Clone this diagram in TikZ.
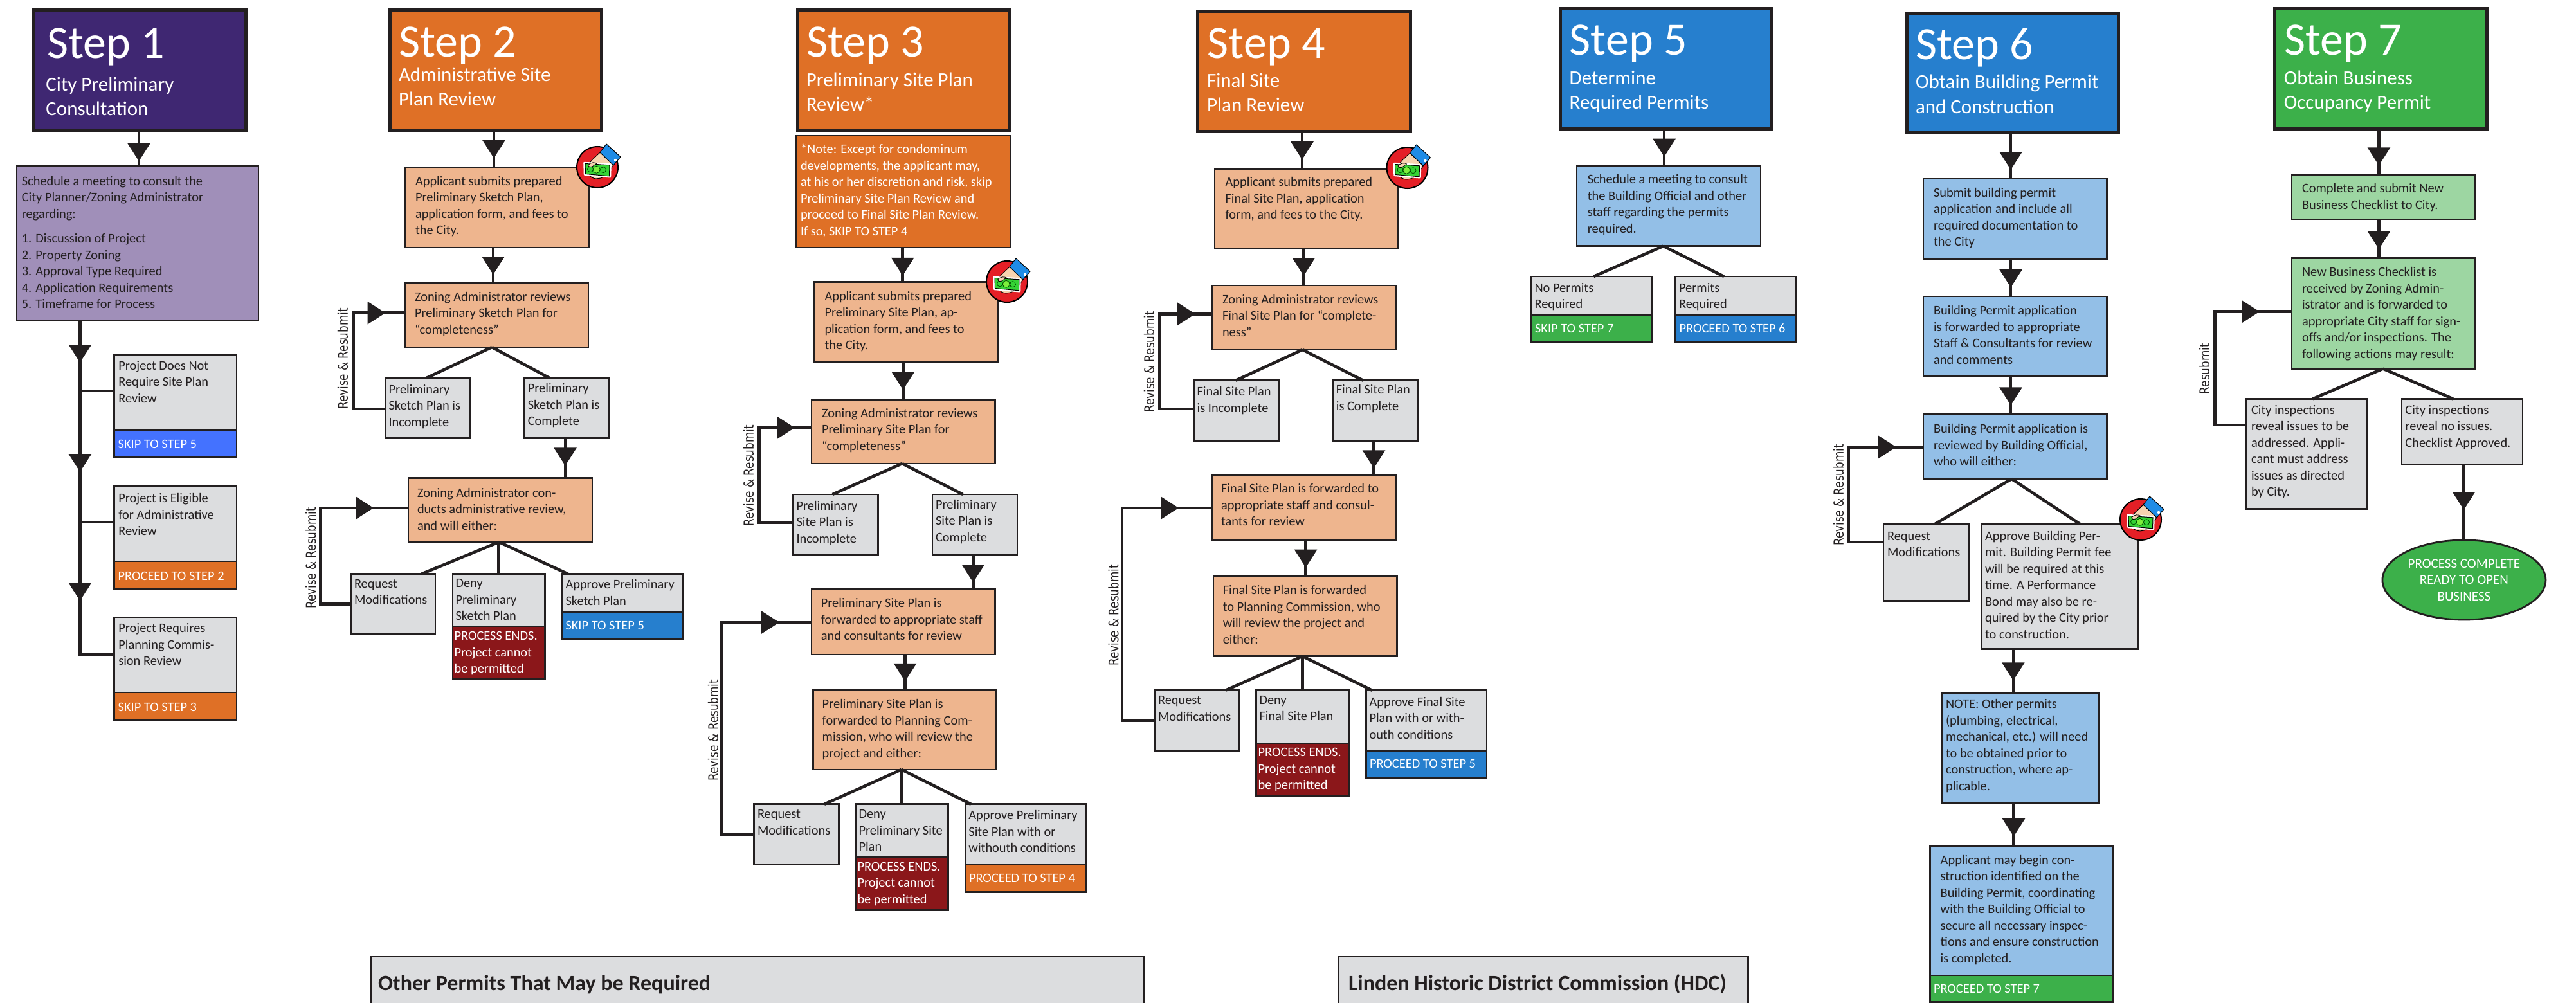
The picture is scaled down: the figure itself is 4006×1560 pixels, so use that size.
\documentclass[tikz,border=0pt]{standalone}
\usepackage{fontspec}
\setmainfont{Carlito}
\newfontfamily\revfont[FakeStretch=0.8]{DejaVu Sans}
\usetikzlibrary{arrows.meta,decorations.markings,shapes.geometric}
\definecolor{ink}{HTML}{231F20}
\definecolor{cPurpleD}{HTML}{3F2772}
\definecolor{cPurpleL}{HTML}{A08FB9}
\definecolor{cOrange}{HTML}{DF7026}
\definecolor{cPeach}{HTML}{EEB58E}
\definecolor{cGray}{HTML}{DCDDDF}
\definecolor{cRed}{HTML}{8B171A}
\definecolor{cBlue}{HTML}{267FCE}
\definecolor{cBlueL}{HTML}{93BFE7}
\definecolor{cBlueB}{HTML}{4472FF}
\definecolor{cGreen}{HTML}{3CB04A}
\definecolor{cGreenL}{HTML}{9DD6A2}
\definecolor{iconRed}{HTML}{E41F26}
\definecolor{iconGreen}{HTML}{35D335}
\definecolor{iconLime}{HTML}{7CF03C}
\definecolor{iconBlue}{HTML}{1F8CE6}
\definecolor{iconSkin}{HTML}{F7D3B0}
\tikzset{
  basebox/.style={draw=ink,line width=2.8pt,inner sep=0pt,outer sep=0pt,rectangle,text=ink,
     font=\fontsize{20.4}{25.5}\selectfont},
  peach/.style={basebox,fill=cPeach},
  gray/.style={basebox,fill=cGray},
  purple/.style={basebox,fill=cPurpleL},
  lblue/.style={basebox,fill=cBlueL},
  lgreen/.style={basebox,fill=cGreenL},
  tag/.style={basebox,fill=#1,text=white},
  head/.style={draw=ink,line width=5pt,inner sep=0pt,outer sep=0pt,rectangle,fill=#1,text=white,
     font=\fontsize{31}{38.3}\selectfont},
  title/.style={anchor=base west,inner sep=0pt,text=white,font=\fontsize{72}{80}\selectfont},
  link/.style={draw=ink,line width=4.6pt},
  revlab/.style={rotate=90,inner sep=0pt,text=ink,font=\revfont\fontsize{21}{25}\selectfont},
  band/.style={basebox,fill=cGray,font=\fontsize{34}{40}\bfseries\selectfont},
  downmark/.style={link,postaction={decorate},decoration={markings,
     mark=at position -#1pt with {\arrow{Triangle[length=28pt,width=34.5pt,color=ink]}}}},
  rightmark/.style={link,miter limit=10,postaction={decorate},decoration={markings,
     mark=at position -#1pt with {\arrow{Triangle[length=28pt,width=34.5pt,color=ink]}}}},
}
% name x1 y1 x2 y2 style textleft firstbaseline text
\newcommand\bx[9]{%
  \pgfmathsetmacro\bxw{#4-#2}\pgfmathsetmacro\bxh{#5-#3}\pgfmathsetmacro\bxl{#7-#2}%
  \node[#6,anchor=north west,minimum width=\bxw pt,minimum height=\bxh pt] (#1) at (#2,#3)
   {\vbox to \bxh pt{\vskip\dimexpr #8pt-#3pt-\ht\strutbox\relax
     \hbox to \bxw pt{\hskip\bxl pt\begin{tabular}[t]{@{}l@{}}#9\end{tabular}\hss}\vss}};}
% a b x gap : vertical arrow
\newcommand\vc[4]{\draw[downmark=#4] (#1.south -| #3,0) -- (#2.north -| #3,0);}
% fork: from apex x on a.south to x on b.north
\newcommand\fk[4]{\draw[link] (#1.south -| #3,0) -- (#2.north -| #4,0);}
% src dst xleft ysrc ydst gap : feedback loop
\newcommand\fb[6]{\draw[rightmark=#6] (#1.west |- 0,#4) -- (#3,#4) -- (#3,#5) -- (#2.west |- 0,#5);}
% name x y : payment icon
\newcommand\money[3]{%
 \begin{scope}[shift={(#2,#3)}]
  \node[circle,draw=black,line width=2pt,fill=iconRed,minimum size=64pt,inner sep=0pt] (#1) at (0,0) {};
  % hand
  \draw[black,line width=1pt,fill=iconSkin,rounded corners=2pt] (4.3,-23.3) -- (-9.7,-10) -- (-14.7,-1.7) -- (-11,15) -- (-3,18.3) -- (7,16.7) -- (13.7,11.7) -- (25.3,-3.3) -- cycle;
  % bill
  \draw[white,line width=3pt,line join=round] (-20.3,-6.7) -- (20.3,-4.3) -- (19.7,15) -- (-19.7,11.7) -- cycle;
  \draw[black,line width=1pt,fill=iconGreen] (-19,-5.5) -- (19,-3.2) -- (18.5,13.8) -- (-18.5,10.5) -- cycle;
  \draw[black!70!green,line width=.8pt] (-11,3.3) circle (4.5pt) (9,4.2) circle (4.5pt);
  \draw[black!70!green,line width=.8pt,fill=iconLime] (-1.3,3.8) circle (5.5pt);
  % thumb
  \draw[black,line width=.8pt,fill=iconSkin] (-14.5,-3) .. controls (-10,-8) and (-4,-8) .. (-1,-6) -- (-8,-1) .. controls (-10,0) and (-13,0) .. cycle;
  % cuff
  \draw[black,line width=1pt,fill=iconBlue,line join=round] (14,-36) -- (36,-16) -- (25,-3) -- (4,-23) -- cycle;
  \fill[white] (28,-11) circle (2.2pt);
 \end{scope}}
\begin{document}
\begin{tikzpicture}[x=1pt,y=-1pt]
\useasboundingbox (0,0) rectangle (4006,1560);
%%%% STEP 1
\bx{h1}{52.3}{15.8}{382}{203}{head=cPurpleD}{71.4}{141}{City Preliminary\\Consultation}
\node[title] (t1) at (73,90.8) {Step 1};
\bx{a1}{26}{258.7}{402}{499}{purple}{33.8}{288.3}{Schedule a meeting to consult the\\City Planner/Zoning Administrator\\regarding:\\[12.8pt]1. Discussion of Project\\2. Property Zoning\\3. Approval Type Required\\4. Application Requirements\\5. Timeframe for Process}
\bx{g1}{177.3}{552}{368}{669}{gray}{184.3}{575}{Project Does Not\\Require Site Plan\\Review}
\bx{l1}{177.3}{669}{368}{711.7}{tag=cBlueB}{183.7}{697}{SKIP TO STEP 5}
\bx{g2}{177.3}{756}{368}{873}{gray}{184.3}{781.6}{Project is Eligible\\for Administrative\\Review}
\bx{l2}{177.3}{873}{368}{916}{tag=cOrange}{183.7}{902}{PROCEED TO STEP 2}
\bx{g3}{177.3}{960}{368}{1077}{gray}{184.3}{983.5}{Project Requires\\Planning Commis-\\sion Review}
\bx{l3}{177.3}{1077}{368}{1120}{tag=cOrange}{183.7}{1106}{SKIP TO STEP 3}
\vc{h1}{a1}{216}{8}
\draw[link,postaction={decorate},decoration={markings,
  mark=at position 65pt with {\arrow{Triangle[length=28pt,width=34.5pt,color=ink]}},
  mark=at position 235pt with {\arrow{Triangle[length=28pt,width=34.5pt,color=ink]}},
  mark=at position 435.5pt with {\arrow{Triangle[length=28pt,width=34.5pt,color=ink]}}}]
  (a1.south -| 124.4,0) -- (124.4,1018.7) -- (g3.west |- 0,1018.7);
\coordinate (j1) at (124.4,608); \coordinate (j2) at (124.4,812);
\draw[link] (j1) -- (g1.west |- j1);
\draw[link] (j2) -- (g2.west |- j2);
%%%% STEP 2
\bx{h2}{606}{15.8}{935}{203}{head=cOrange}{620}{126.5}{Administrative Site\\Plan Review}
\node[title] (t2) at (620,89) {Step 2};
\bx{b1}{630}{261}{916}{385}{peach}{646}{288}{Applicant submits prepared\\Preliminary Sketch Plan,\\application form, and fees to\\the City.}
\bx{b2}{629.5}{440}{915}{540}{peach}{645}{468}{Zoning Administrator reviews\\Preliminary Sketch Plan for\\“completeness”}
\bx{b3}{599.5}{588}{731}{681.6}{gray}{604.6}{612}{Preliminary\\Sketch Plan is\\Incomplete}
\bx{b4}{815.7}{588}{947.7}{681.6}{gray}{820.8}{610.7}{Preliminary\\Sketch Plan is\\Complete}
\bx{b5}{635}{743.4}{921}{843}{peach}{649}{773}{Zoning Administrator con-\\ducts administrative review,\\and will either:}
\bx{b6}{546}{892.6}{677}{985.5}{gray}{551}{914}{Request\\Modifications}
\bx{b7}{704}{892.6}{847.6}{974}{gray}{708.5}{913.6}{Deny\\Preliminary\\Sketch Plan}
\bx{b7t}{704}{974}{847.6}{1056.4}{tag=cRed}{706.6}{995.7}{PROCESS ENDS.\\Project cannot\\be permitted}
\bx{b8}{874.4}{892.6}{1062}{951.3}{gray}{879.5}{915.6}{Approve Preliminary\\Sketch Plan}
\bx{b8t}{874.4}{951.3}{1062}{994.7}{tag=cBlue}{879.5}{979.4}{SKIP TO STEP 5}
\vc{h2}{b1}{768}{15}
\vc{b1}{b2}{767}{13}
\vc{b4}{b5}{879}{19}
\fk{b2}{b3}{765}{663}
\fk{b2}{b4}{765}{854.6}
\fk{b5}{b6}{776}{655.6}
\fk{b5}{b7}{775.5}{775.5}
\fk{b5}{b8}{776}{883.3}
\fb{b3}{b2}{550}{636}{486.7}{30}
\fb{b6}{b5}{498.7}{939.6}{790}{54}
\node[revlab] (r2a) at (533,558) {Revise \& Resubmit};
\node[revlab] (r2b) at (483.4,868) {Revise \& Resubmit};
\money{m2}{929}{260}
%%%% STEP 3
\bx{h3}{1240.4}{15.8}{1569.5}{203}{head=cOrange}{1253.8}{134}{Preliminary Site Plan\\Review*}
\node[title] (t3) at (1253.8,89) {Step 3};
\bx{n3}{1238}{211}{1572}{385}{tag=cOrange}{1245}{238.8}{*Note: Except for condominum\\developments, the applicant may,\\at his or her discretion and risk, skip\\Preliminary Site Plan Review and\\proceed to Final Site Plan Review.\\If so, SKIP TO STEP 4}
\bx{c1}{1266.6}{438.8}{1551.7}{563}{peach}{1282.5}{467}{Applicant submits prepared\\Preliminary Site Plan, ap-\\plication form, and fees to\\the City.}
\bx{c2}{1262}{621.4}{1547.8}{721}{peach}{1278}{649}{Zoning Administrator reviews\\Preliminary Site Plan for\\“completeness”}
\bx{c3}{1233.4}{769}{1365.4}{863}{gray}{1238.5}{793}{Preliminary\\Site Plan is\\Incomplete}
\bx{c4}{1450}{769}{1582}{863}{gray}{1455}{791}{Preliminary\\Site Plan is\\Complete}
\bx{c5}{1262}{916}{1547.8}{1018}{peach}{1276.8}{944.7}{Preliminary Site Plan is\\forwarded to appropriate staff\\and consultants for review}
\bx{c6}{1264.7}{1073.8}{1549.8}{1197}{peach}{1278.7}{1101.8}{Preliminary Site Plan is\\forwarded to Planning Com-\\mission, who will review the\\project and either:}
\bx{c7}{1172.8}{1250.8}{1304.8}{1345}{gray}{1178}{1272.8}{Request\\Modifications}
\bx{c8}{1331}{1250.8}{1474.5}{1333.5}{gray}{1335.5}{1272.8}{Deny\\Preliminary Site\\Plan}
\bx{c8t}{1331}{1333.5}{1474.5}{1415.7}{tag=cRed}{1333.5}{1354.4}{PROCESS ENDS.\\Project cannot\\be permitted}
\bx{c9}{1502}{1250.8}{1688.8}{1345}{gray}{1506.4}{1274.9}{Approve Preliminary\\Site Plan with or\\withouth conditions}
\bx{c9t}{1502}{1345}{1688.8}{1387.6}{tag=cOrange}{1507}{1372.8}{PROCEED TO STEP 4}
\vc{n3}{c1}{1403.7}{10}
\vc{c1}{c2}{1404.3}{15}
\vc{c4}{c5}{1513.4}{10}
\vc{c5}{c6}{1407.5}{14}
\fk{c2}{c3}{1403}{1294.6}
\fk{c2}{c4}{1403}{1497.4}
\fk{c6}{c7}{1401.8}{1281.9}
\fk{c6}{c8}{1402.4}{1402.4}
\fk{c6}{c9}{1402}{1510}
\fb{c3}{c2}{1180.5}{813}{665.3}{26}
\fb{c7}{c5}{1121.8}{1298}{968}{50}
\node[revlab] (r3a) at (1164,740) {Revise \& Resubmit};
\node[revlab] (r3b) at (1109,1135.7) {Revise \& Resubmit};
\money{m3}{1566}{438}
%%%% STEP 4
\bx{h4}{1862.9}{17.3}{2193}{204}{head=cOrange}{1877}{135}{Final Site\\Plan Review}
\node[title] (t4) at (1877.6,90.3) {Step 4};
\bx{d1}{1889}{262.2}{2174.7}{386}{peach}{1905.6}{289.8}{Applicant submits prepared\\Final Site Plan, application\\form, and fees to the City.}
\bx{d2}{1885}{444}{2171}{544}{peach}{1901}{472}{Zoning Administrator reviews\\Final Site Plan for “complete-\\ness”}
\bx{d3}{1856.5}{591.8}{1988.5}{685.7}{gray}{1861.6}{615.8}{Final Site Plan\\is Incomplete}
\bx{d4}{2073.3}{591.8}{2205.4}{685.7}{gray}{2077.8}{612.8}{Final Site Plan\\is Complete}
\bx{d5}{1885}{738.3}{2171}{840.6}{peach}{1899}{766.8}{Final Site Plan is forwarded to\\appropriate staff and consul-\\tants for review}
\bx{d6}{1887}{895.7}{2172.8}{1020.7}{peach}{1901.8}{924.8}{Final Site Plan is forwarded\\to Planning Commission, who\\will review the project and\\either:}
\bx{d7}{1795.3}{1073.8}{1927.3}{1167.7}{gray}{1801}{1095.7}{Request\\Modifications}
\bx{d8}{1953.4}{1073.8}{2097.6}{1156}{gray}{1958.5}{1095}{Deny\\Final Site Plan}
\bx{d8t}{1953.4}{1156}{2097.6}{1238}{tag=cRed}{1956.6}{1176.8}{PROCESS ENDS.\\Project cannot\\be permitted}
\bx{d9}{2124.4}{1073.8}{2311.9}{1167.7}{gray}{2129.5}{1098}{Approve Final Site\\Plan with or with-\\outh conditions}
\bx{d9t}{2124.4}{1167.7}{2311.9}{1209.5}{tag=cBlue}{2130}{1194.7}{PROCEED TO STEP 5}
\vc{h4}{d1}{2024.9}{14}
\vc{d1}{d2}{2027.4}{15}
\vc{d4}{d5}{2136.5}{10}
\vc{d5}{d6}{2030.6}{13}
\fk{d2}{d3}{2025.5}{1921.6}
\fk{d2}{d4}{2025.5}{2120}
\fk{d6}{d7}{2025.5}{1905.6}
\fk{d6}{d8}{2025.5}{2025.5}
\fk{d6}{d9}{2025.5}{2134}
\fb{d3}{d2}{1803}{636}{488.3}{26}
\fb{d7}{d5}{1745}{1121}{790}{52}
\node[revlab] (r4a) at (1787,563) {Revise \& Resubmit};
\node[revlab] (r4b) at (1731.5,957) {Revise \& Resubmit};
\money{m4}{2188.5}{261}
%%%% STEP 5
\bx{h5}{2426.7}{13.8}{2755.7}{200}{head=cBlue}{2440.7}{131}{Determine\\Required Permits}
\node[title] (t5) at (2440.7,85.7) {Step 5};
\bx{e1}{2452}{258.7}{2737.9}{382.7}{lblue}{2468.8}{285.7}{Schedule a meeting to consult\\the Building Official and other\\staff regarding the permits\\required.}
\bx{e2}{2381.4}{430}{2568.9}{490.8}{gray}{2386.5}{454}{No Permits\\Required}
\bx{e2t}{2381.4}{490.8}{2568.9}{532.7}{tag=cGreen}{2387}{517.4}{SKIP TO STEP 7}
\bx{e3}{2605}{430}{2793.4}{490.8}{gray}{2611}{454}{Permits\\Required}
\bx{e3t}{2605}{490.8}{2793.4}{532.7}{tag=cBlue}{2611.6}{517.4}{PROCEED TO STEP 6}
\vc{h5}{e1}{2588}{15}
\fk{e1}{e2}{2586.7}{2478.3}
\fk{e1}{e3}{2586.7}{2681}
%%%% STEP 6
\bx{h6}{2965}{20.4}{3294.5}{206}{head=cBlue}{2979}{137.8}{Obtain Building Permit\\and Construction}
\node[title] (t6) at (2979,92.9) {Step 6};
\bx{f1}{2991}{278}{3276.5}{402.6}{lblue}{3007}{306}{Submit building permit\\application and include all\\required documentation to\\the City}
\bx{f2}{2991}{461}{3276.5}{585.7}{lblue}{3007}{489.8}{Building Permit application\\is forwarded to appropriate\\Staff \& Consultants for review\\and comments}
\bx{f3}{2991}{644.4}{3276.5}{744.9}{lblue}{3007}{673.5}{Building Permit application is\\reviewed by Building Official,\\who will either:}
\bx{f4}{2929}{815}{3061.5}{934.5}{gray}{2935}{840}{Request\\Modifications}
\bx{f5}{3081.5}{815}{3325.4}{1009.5}{gray}{3087}{840}{Approve Building Per-\\mit. Building Permit fee\\will be required at this\\time. A Performance\\Bond may also be re-\\quired by the City prior\\to construction.}
\bx{f6}{3020.8}{1077.4}{3264.6}{1249.8}{lblue}{3026}{1101.8}{NOTE: Other permits\\(plumbing, electrical,\\mechanical, etc.) will need\\to be obtained prior to\\construction, where ap-\\plicable.}
\bx{f7}{3001.5}{1316}{3286}{1517}{lblue}{3017.7}{1344}{Applicant may begin con-\\struction identified on the\\Building Permit, coordinating\\with the Building Official to\\secure all necessary inspec-\\tions and ensure construction\\is completed.}
\bx{f7t}{3001.5}{1517}{3286}{1558.5}{tag=cGreen}{3007}{1544.7}{PROCEED TO STEP 7}
\vc{h6}{f1}{3127}{14}
\vc{f1}{f2}{3127}{14}
\vc{f2}{f3}{3127}{14}
\vc{f5}{f6}{3130.8}{19}
\vc{f6}{f7}{3131.5}{15}
\fk{f3}{f4}{3128.3}{3009}
\fk{f3}{f5}{3128.3}{3234.6}
\fb{f4}{f3}{2875}{843}{695.4}{42}
\node[revlab] (r6) at (2859,770) {Revise \& Resubmit};
\money{m6}{3329}{808}
%%%% STEP 7
\bx{h7}{3537.7}{13.8}{3867.4}{200}{head=cGreen}{3551.8}{131}{Obtain Business\\Occupancy Permit}
\node[title] (t7) at (3551.8,85.7) {Step 7};
\bx{k1}{3564}{271.4}{3849.5}{341}{lgreen}{3580}{299.5}{Complete and submit New\\Business Checklist to City.}
\bx{k2}{3564}{401.5}{3849.5}{573.5}{lgreen}{3580}{429.6}{New Business Checklist is\\received by Zoning Admin-\\istrator and is forwarded to\\appropriate City staff for sign-\\offs and/or inspections. The\\following actions may result:}
\bx{k3}{3493.4}{620.4}{3681.4}{791.8}{gray}{3501}{644.4}{City inspections\\reveal issues to be\\addressed. Appli-\\cant must address\\issues as directed\\by City.}
\bx{k4}{3735}{620.4}{3923}{722.4}{gray}{3740.4}{644.4}{City inspections\\reveal no issues.\\Checklist Approved.}
\node[ellipse,draw=ink,line width=2.8pt,fill=cGreen,text=white,inner sep=0pt,outer sep=0pt,minimum width=254pt,minimum height=124pt,align=center,font=\fontsize{21}{25.5}\selectfont] (k5) at (3831.9,902) {PROCESS COMPLETE\\READY TO OPEN\\BUSINESS};
\vc{h7}{k1}{3699.4}{14}
\vc{k1}{k2}{3699.4}{14}
\vc{k4}{k5}{3831.5}{47}
\fk{k2}{k3}{3705.8}{3596.7}
\fk{k2}{k4}{3705.8}{3814.8}
\fb{k3}{k2}{3444.6}{661}{484.7}{50}
\node[revlab] (r7) at (3428,573.7) {Resubmit};
%%%% BOTTOM BANDS
\bx{o1}{577}{1488}{1778.7}{1570}{band}{588}{1540.6}{Other Permits That May be Required}
\bx{o2}{2081.6}{1488}{2718.8}{1570}{band}{2097}{1540.6}{Linden Historic District Commission (HDC)}
\end{tikzpicture}
\end{document}
